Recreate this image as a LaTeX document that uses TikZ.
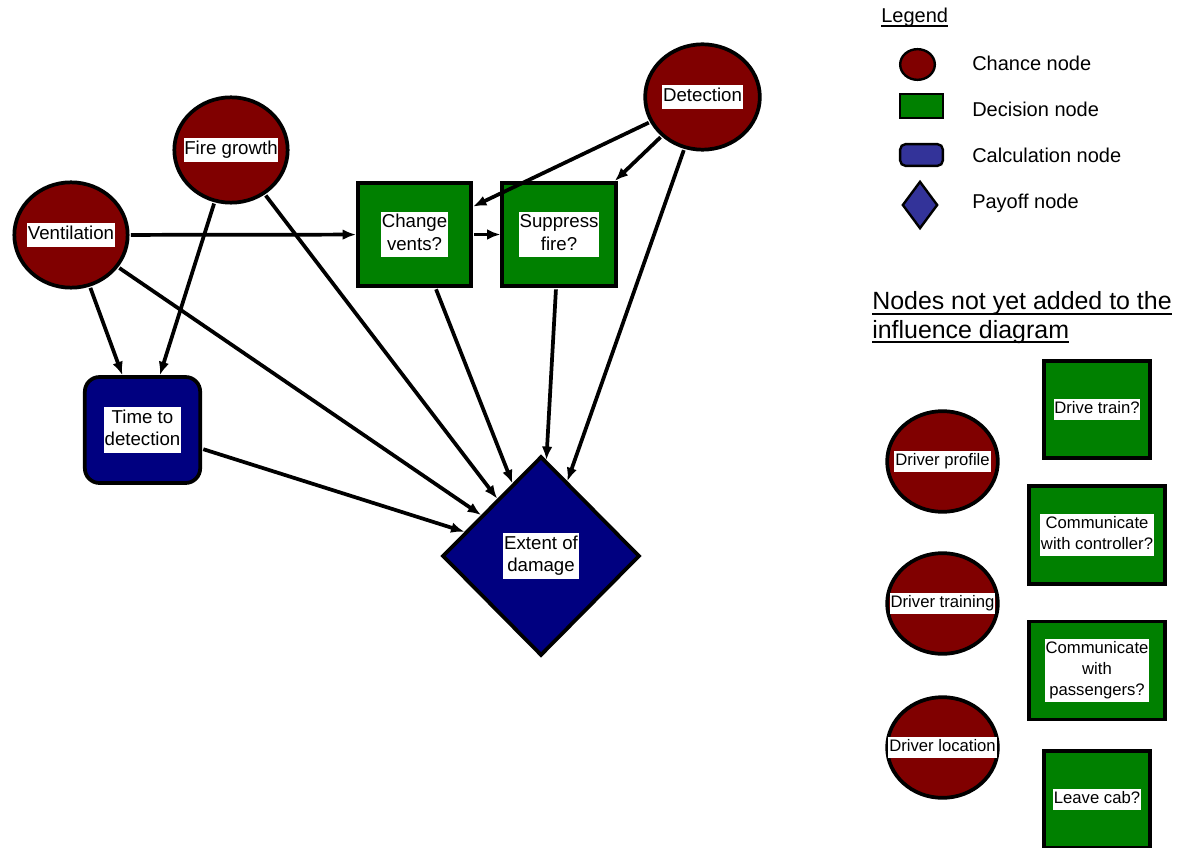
\documentclass[tikz,border=0pt]{standalone}
\usepackage{fontspec}
\setmainfont{Liberation Sans}
\usetikzlibrary{shapes.geometric,arrows.meta}
\definecolor{chancered}{HTML}{800000}
\definecolor{decisiongreen}{HTML}{008000}
\definecolor{calcblue}{HTML}{000080}
\definecolor{keyblue}{HTML}{333399}

\begin{document}
\begin{tikzpicture}[x=0.75pt, y=-0.75pt,
  chance/.style={ellipse, draw, line width=2.8pt, fill=chancered, inner sep=0pt, minimum width=85pt, minimum height=79pt},
  decision/.style={rectangle, draw, line width=2.8pt, fill=decisiongreen, inner sep=0pt, minimum width=85pt, minimum height=77.5pt},
  calc/.style={rectangle, rounded corners=11pt, draw, line width=2.8pt, fill=calcblue, inner sep=0pt, minimum width=86.5pt, minimum height=79.5pt},
  payoff/.style={diamond, draw, line width=2.8pt, fill=calcblue, inner sep=0pt, minimum width=148pt, minimum height=149.5pt},
  tag/.style={fill=white, align=center, inner xsep=0.6pt, inner ysep=0.2pt, font=\fontsize{14}{17}\selectfont},
  smalltag/.style={tag, font=\fontsize{12.5}{15.5}\selectfont},
  keytext/.style={anchor=base west, inner sep=0pt, font=\fontsize{15}{18}\selectfont},
  headtext/.style={keytext, font=\fontsize{18.7}{21}\selectfont},
  link/.style={-{Latex[length=10pt,width=8pt]}, line width=2.8pt, shorten <=1pt}]
\useasboundingbox (0,0) rectangle (1180,848);

% === Influence diagram ===
\node[chance] (vent) at (71,235) {};
\node[chance] (fire) at (231,150) {};
\node[chance, minimum width=86pt] (detect) at (702.5,97) {};
\node[decision] (change) at (414.5,234.5) {};
\node[decision] (suppress) at (559,234.5) {};
\node[calc] (ttd) at (142.5,430) {};
\node[payoff] (damage) at (541,556) {};

% Arrows
\draw[link] (vent) -- (change);
\draw[link] (change) -- (suppress);
\draw[link] (detect) -- (change);
\draw[link] (detect) -- (suppress);
\draw[link] (vent) -- (ttd);
\draw[link] (fire) -- (ttd);
\foreach \src in {vent,fire,ttd,change,suppress,detect}
  \draw[link] (\src) -- (damage);

% Labels
\node[tag] at (vent) {\strut Ventilation};
\node[tag] at (fire) {\strut Fire growth};
\node[tag] at (detect) {\strut Detection};
\node[tag] at (change) {\strut Change\\\strut vents?};
\node[tag] at (suppress) {\strut Suppress\\\strut fire?};
\node[tag] at (ttd) {\strut Time to\\\strut detection};
\node[tag] at (damage) {\strut Extent of\\\strut damage};

% === Legend ===
\node[keytext] (legendhead) at (881,23) {Legend};
\draw[line width=1.2pt] ([yshift=-2.4pt]legendhead.base west) -- ([yshift=-2.4pt]legendhead.base east);
\node[ellipse, draw, line width=1.8pt, fill=chancered, inner sep=0pt, minimum width=26pt, minimum height=23pt] (keychance) at (917.5,64.5) {};
\node[rectangle, draw, line width=1.8pt, fill=decisiongreen, inner sep=0pt, minimum width=32pt, minimum height=17.75pt] (keydecision) at (921.5,106) {};
\node[rectangle, rounded corners=4pt, draw, line width=1.8pt, fill=keyblue, inner sep=0pt, minimum width=32pt, minimum height=16.25pt] (keycalc) at (921.5,155) {};
\node[diamond, draw, line width=1.8pt, fill=keyblue, inner sep=0pt, minimum width=26.5pt, minimum height=35.5pt] (keypayoff) at (920,205) {};
\node[keytext] at (972,71) {Chance node};
\node[keytext] at (972,117) {Decision node};
\node[keytext] at (972,163) {Calculation node};
\node[keytext] at (972,209) {Payoff node};

% === Nodes not yet added ===
\node[headtext] (pendhead) at (872,310) {Nodes not yet added to the};
\node[headtext] (pendhead2) at (872,338) {influence diagram};
\foreach \h in {pendhead,pendhead2}
  \draw[line width=1.4pt] ([yshift=-3pt]\h.base west) -- ([yshift=-3pt]\h.base east);
\foreach \name/\y/\txt in {profile/461.5/Driver profile, training/603.5/Driver training, location/747.5/Driver location} {
  \node[chance, minimum width=83pt, minimum height=75.5pt] (\name) at (942.5,\y) {};
  \node[smalltag] at (\name) {\strut\txt};
}
\node[decision, minimum width=79.5pt, minimum height=73pt] (drivetrain) at (1097,409.5) {};
\node[decision, minimum width=102pt, minimum height=73.5pt] (commctrl) at (1097,535) {};
\node[decision, minimum width=102pt, minimum height=73.5pt] (commpass) at (1097,670.5) {};
\node[decision, minimum width=79.5pt, minimum height=73pt] (leavecab) at (1097,799.5) {};
\node[smalltag] at (drivetrain) {\strut Drive train?};
\node[smalltag] at (commctrl) {\strut Communicate\\\strut with controller?};
\node[smalltag] at (commpass) {\strut Communicate\\\strut with\\\strut passengers?};
\node[smalltag] at (leavecab) {\strut Leave cab?};
\end{tikzpicture}
\end{document}
